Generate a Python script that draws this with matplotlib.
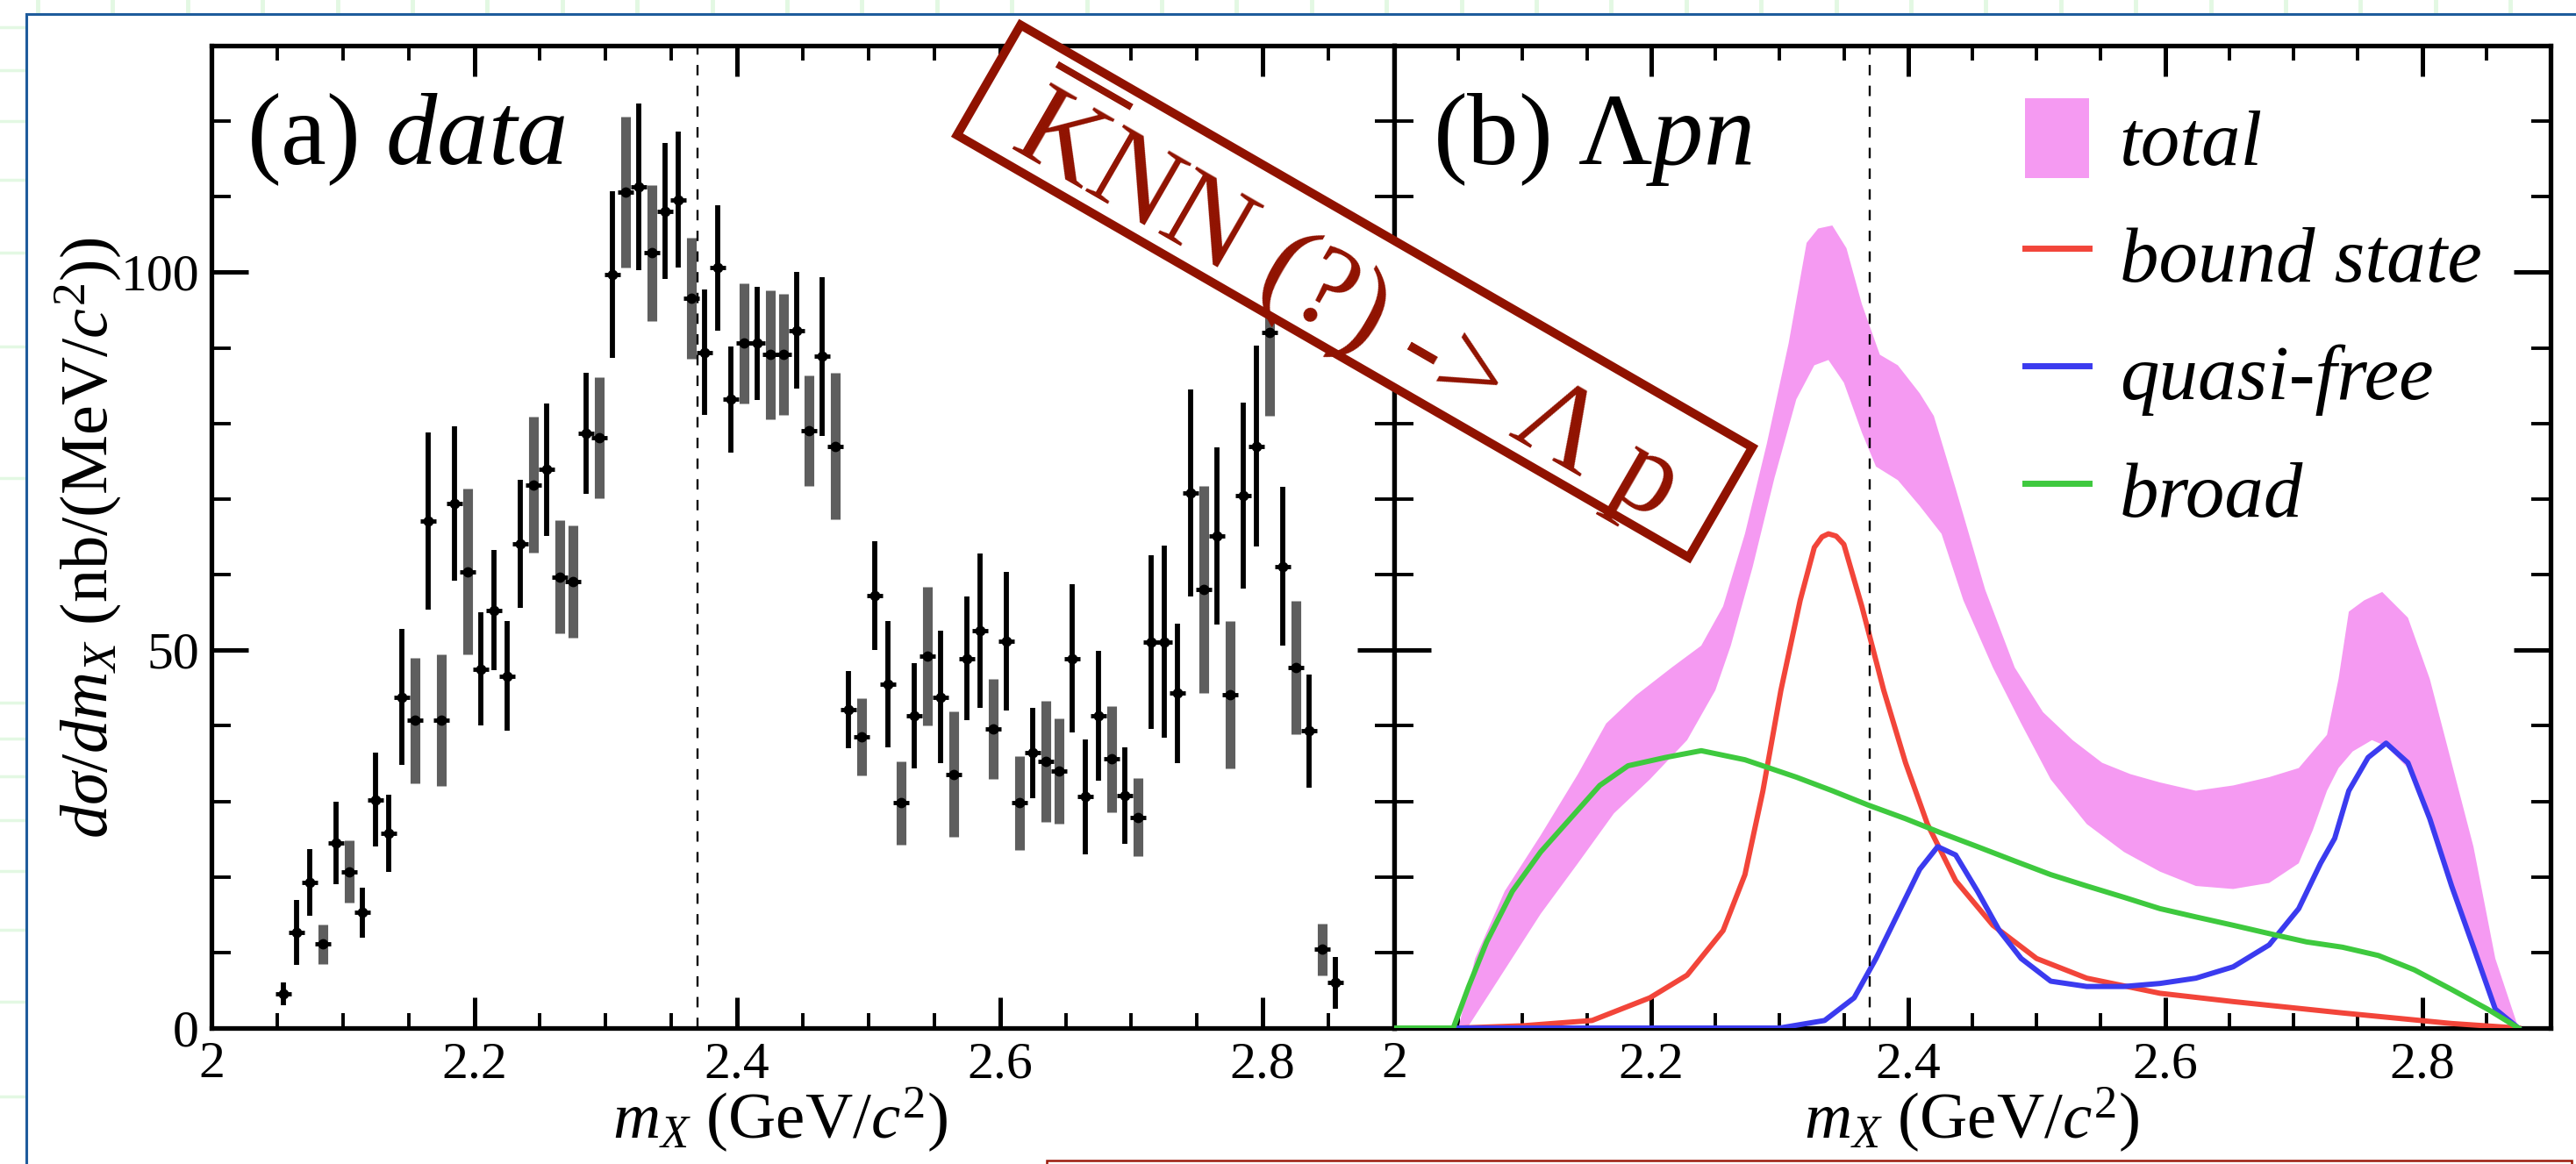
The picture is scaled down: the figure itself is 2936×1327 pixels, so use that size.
import numpy as np
import matplotlib
matplotlib.use('Agg')
import matplotlib.pyplot as plt
from matplotlib.patches import Rectangle, Patch
from matplotlib.lines import Line2D
from matplotlib.transforms import Affine2D, IdentityTransform
from matplotlib.ticker import MultipleLocator, FuncFormatter

plt.rcParams['font.family'] = ['Liberation Serif', 'DejaVu Serif']
plt.rcParams['mathtext.fontset'] = 'custom'
plt.rcParams['mathtext.rm'] = 'Liberation Serif'
plt.rcParams['mathtext.it'] = 'Liberation Serif:italic'
plt.rcParams['mathtext.bf'] = 'Liberation Serif:bold'

# ---------------- data: panel (a) ----------------
mx = [2.055, 2.065, 2.075, 2.085, 2.095, 2.105, 2.115, 2.125, 2.135, 2.145,
      2.155, 2.165, 2.175, 2.185, 2.195, 2.205, 2.215, 2.225, 2.235, 2.245,
      2.255, 2.265, 2.275, 2.285, 2.295, 2.305, 2.315, 2.325, 2.335, 2.345,
      2.355, 2.365, 2.375, 2.385, 2.395, 2.405, 2.415, 2.425, 2.435, 2.445,
      2.455, 2.465, 2.475, 2.485, 2.495, 2.505, 2.515, 2.525, 2.535, 2.545,
      2.555, 2.565, 2.575, 2.585, 2.595, 2.605, 2.615, 2.625, 2.635, 2.645,
      2.655, 2.665, 2.675, 2.685, 2.695, 2.705, 2.715, 2.725, 2.735, 2.745,
      2.755, 2.765, 2.775, 2.785, 2.795, 2.805, 2.815, 2.825, 2.835, 2.845,
      2.855]
xsec = [4.5, 12.6, 19.3, 11.1, 24.5, 20.7, 15.3, 30.2, 25.8, 43.8,
        40.7, 67.1, 40.7, 69.4, 60.4, 47.5, 55.3, 46.6, 64.1, 71.9,
        73.9, 59.7, 59.1, 78.7, 78.1, 99.7, 110.6, 111.3, 102.6, 108.1,
        109.6, 96.6, 89.4, 100.6, 83.2, 90.6, 90.6, 89.1, 89.1, 92.3,
        79.0, 88.9, 77.0, 42.1, 38.5, 57.2, 45.5, 29.8, 41.3, 49.2,
        43.8, 33.6, 48.9, 52.6, 39.6, 51.2, 29.8, 36.4, 35.3, 34.0,
        48.9, 30.6, 41.3, 35.6, 30.8, 27.9, 51.1, 51.1, 44.3, 70.8,
        58.0, 65.1, 44.1, 70.5, 77.0, 92.0, 61.1, 47.7, 39.3, 10.4,
        6.0]
xsec_err = [1.5, 4.3, 4.4, 2.6, 5.5, 4.1, 3.3, 6.2, 5.1, 9.0,
            8.3, 11.7, 8.7, 10.2, 11.0, 7.5, 8.0, 7.2, 8.5, 9.0,
            8.8, 7.5, 7.4, 8.0, 8.0, 11.0, 10.0, 11.0, 9.0, 9.0,
            9.0, 8.0, 8.3, 8.3, 7.0, 8.0, 7.5, 8.5, 8.0, 7.7,
            7.3, 10.5, 9.7, 5.1, 5.1, 7.2, 8.3, 5.5, 7.0, 9.2,
            8.8, 8.3, 8.2, 10.2, 6.6, 9.2, 6.2, 6.0, 8.0, 7.0,
            9.8, 7.6, 8.6, 7.0, 6.4, 5.2, 11.5, 12.7, 9.2, 13.7,
            13.7, 11.7, 9.7, 12.3, 13.3, 11.0, 10.5, 8.8, 7.5, 3.4,
            3.4]
# 1 = error shown as grey systematic band, 0 = black statistical bar
sys_band = [0, 0, 0, 1, 0, 1, 0, 0, 0, 0,
            1, 0, 1, 0, 1, 0, 0, 0, 0, 1,
            0, 1, 1, 0, 1, 0, 1, 0, 1, 0,
            0, 1, 0, 0, 0, 1, 0, 1, 1, 0,
            1, 0, 1, 0, 1, 0, 0, 1, 0, 1,
            0, 1, 0, 0, 1, 0, 1, 0, 1, 1,
            0, 0, 0, 1, 0, 1, 0, 0, 0, 0,
            1, 0, 1, 0, 0, 1, 0, 1, 0, 1,
            0]

# ---------------- data: panel (b) ----------------
total_up_x = [2.050, 2.063, 2.086, 2.114, 2.143, 2.165, 2.188, 2.216, 2.239, 2.256,
              2.273, 2.290, 2.307, 2.321, 2.330, 2.341, 2.352, 2.364, 2.378, 2.392,
              2.409, 2.420, 2.437, 2.460, 2.483, 2.505, 2.528, 2.551, 2.573, 2.596,
              2.624, 2.653, 2.681, 2.704, 2.726, 2.735, 2.743, 2.755, 2.769, 2.789,
              2.806, 2.823, 2.840, 2.857, 2.875]
total_up_y = [0.0, 9.2, 18.1, 25.5, 33.6, 40.3, 44.0, 47.7, 50.6, 55.8,
              65.4, 77.3, 90.6, 103.9, 105.8, 106.2, 103.2, 95.8, 89.1, 87.7,
              84.0, 81.0, 71.4, 58.0, 47.7, 41.8, 38.1, 35.1, 33.6, 32.5,
              31.4, 32.1, 33.2, 34.4, 38.8, 46.2, 55.1, 56.6, 57.7, 54.3,
              46.2, 35.1, 24.0, 9.2, 0.0]
total_lo_x = [2.050, 2.058, 2.086, 2.114, 2.143, 2.171, 2.199, 2.228, 2.250, 2.262,
              2.279, 2.296, 2.313, 2.327, 2.338, 2.350, 2.364, 2.375, 2.392, 2.409,
              2.426, 2.443, 2.466, 2.488, 2.511, 2.539, 2.568, 2.596, 2.624, 2.653,
              2.681, 2.704, 2.715, 2.726, 2.735, 2.746, 2.761, 2.772, 2.789, 2.806,
              2.823, 2.840, 2.857, 2.875]
total_lo_y = [0.0, 0.3, 7.7, 15.1, 21.8, 28.4, 32.9, 38.1, 44.7, 50.6,
              61.0, 72.8, 83.2, 87.7, 88.4, 85.4, 78.8, 74.3, 72.5, 69.1,
              65.4, 56.6, 47.7, 40.3, 32.9, 27.0, 23.3, 20.7, 18.8, 18.4,
              19.2, 21.8, 26.2, 31.4, 34.4, 36.6, 38.1, 37.3, 34.4, 27.7,
              18.8, 10.7, 1.8, 0.0]

bound_x = [2.050, 2.100, 2.154, 2.199, 2.228, 2.256, 2.273, 2.287, 2.301, 2.316,
           2.327, 2.333, 2.338, 2.344, 2.350, 2.364, 2.381, 2.398, 2.415, 2.437,
           2.466, 2.500, 2.539, 2.596, 2.653, 2.738, 2.823, 2.875]
bound_y = [0.0, 0.3, 1.0, 4.0, 7.0, 12.9, 20.3, 31.4, 44.7, 56.6,
           63.6, 65.0, 65.4, 65.1, 64.0, 55.8, 44.7, 35.1, 27.0, 19.5,
           13.6, 9.2, 6.6, 4.6, 3.5, 2.0, 0.6, 0.0]

qf_x = [2.050, 2.300, 2.335, 2.358, 2.375, 2.392, 2.409, 2.423, 2.437, 2.454,
        2.471, 2.488, 2.511, 2.539, 2.568, 2.596, 2.624, 2.653, 2.681, 2.704,
        2.721, 2.732, 2.743, 2.758, 2.772, 2.789, 2.806, 2.823, 2.840, 2.857,
        2.875]
qf_y = [0.0, 0.0, 1.0, 4.0, 9.2, 15.1, 21.0, 24.0, 22.9, 18.1,
        12.9, 9.2, 6.2, 5.5, 5.5, 5.9, 6.6, 8.1, 11.0, 15.8,
        21.8, 25.1, 31.4, 35.8, 37.7, 35.1, 27.7, 18.8, 10.7, 2.5,
        0.0]

broad_x = [2.000, 2.046, 2.058, 2.072, 2.092, 2.114, 2.137, 2.160, 2.182, 2.211,
           2.239, 2.273, 2.313, 2.341, 2.369, 2.398, 2.426, 2.454, 2.483, 2.511,
           2.539, 2.568, 2.596, 2.624, 2.653, 2.681, 2.710, 2.738, 2.766, 2.794,
           2.823, 2.851, 2.875]
broad_y = [0.0, 0.0, 5.5, 11.4, 18.1, 23.3, 27.7, 32.1, 34.7, 35.8,
           36.7, 35.5, 33.2, 31.4, 29.5, 27.7, 25.8, 24.0, 22.1, 20.3,
           18.8, 17.3, 15.8, 14.7, 13.6, 12.5, 11.4, 10.7, 9.6, 7.7,
           5.1, 2.5, 0.0]

threshold = 2.37
legend_labels = ['total', 'bound state', 'quasi-free', 'broad']
x_ticks = [2.0, 2.2, 2.4, 2.6, 2.8]
y_ticks = [0, 50, 100]

# ---------------- style ----------------
W, H = 2936, 1327
C_PINK = '#f59af2'
C_RED = '#f2453a'
C_BLUE = '#3b3bef'
C_GREEN = '#3ec93e'
C_DARKRED = '#901200'
C_FRAME = '#1f5c9c'
C_GRID = '#e3f8e3'

fig = plt.figure(figsize=(W / 100, H / 100), dpi=100)
fig.patch.set_facecolor('white')


def px_axes(x0, y0, x1, y1):
    return [x0 / W, 1 - y1 / H, (x1 - x0) / W, (y1 - y0) / H]


# background decoration (slide grid marks + blue frame)
for k in range(35):
    xg = 43 + 85.4 * k
    fig.add_artist(Line2D([xg, xg], [H - 13, H], transform=IdentityTransform(),
                          color=C_GRID, lw=3.5, zorder=0))
for yg in [31, 80, 138, 205, 288, 395, 545, 801, 842, 885, 935, 993, 1060, 1142, 1250]:
    fig.add_artist(Line2D([0, 27], [H - yg, H - yg], transform=IdentityTransform(),
                          color=C_GRID, lw=2.5, zorder=0))
fig.add_artist(Rectangle((30, -60), 3100, H - 16 + 60, transform=IdentityTransform(),
                         fill=False, ec=C_FRAME, lw=2.2, zorder=0.5))

axL = fig.add_axes(px_axes(241, 52, 1589, 1172))
axR = fig.add_axes(px_axes(1589, 52, 2907, 1172))

for ax in (axL, axR):
    ax.set_xlim(2.0, 2.9)
    ax.set_ylim(0, 130)
    ax.xaxis.set_major_locator(plt.FixedLocator(x_ticks))
    ax.xaxis.set_minor_locator(MultipleLocator(0.05))
    ax.yaxis.set_major_locator(plt.FixedLocator(y_ticks))
    ax.yaxis.set_minor_locator(MultipleLocator(10))
    ax.xaxis.set_major_formatter(FuncFormatter(lambda v, p: f'{v:g}'))
    ax.yaxis.set_major_formatter(FuncFormatter(lambda v, p: f'{v:g}'))
    ax.tick_params(axis='both', which='both', direction='in', top=True, right=True,
                   labelsize=43, color='black')
    ax.tick_params(axis='x', which='major', length=25, width=3.6, pad=11)
    ax.tick_params(axis='x', which='minor', length=12, width=2.8)
    ax.tick_params(axis='y', which='major', length=30, width=3.6, pad=10)
    ax.tick_params(axis='y', which='minor', length=16, width=2.8)
    for s in ax.spines.values():
        s.set_linewidth(3.8)
    ax.axvline(threshold, color='black', lw=1.7, ls=(0, (5, 5)), zorder=6)
axR.tick_params(axis='y', which='both', labelleft=False)

# ---- panel (a): data ----
mx_a = np.array(mx)
y_a = np.array(xsec)
e_a = np.array(xsec_err)
band = np.array(sys_band) == 1
axL.vlines(mx_a[band], (y_a - e_a)[band], (y_a + e_a)[band], color='#5e5e5e', lw=8, zorder=3)
axL.vlines(mx_a[~band], (y_a - e_a)[~band], (y_a + e_a)[~band], color='black', lw=4.2, zorder=4)
axL.plot(mx_a, y_a, 'o', color='black', ms=7.5, zorder=5)
axL.plot(mx_a, y_a, '_', color='black', ms=13, mew=3.5, zorder=5)

# ---- panel (b): model ----
poly_x = np.concatenate([total_up_x, total_lo_x[::-1]])
poly_y = np.concatenate([total_up_y, total_lo_y[::-1]])
axR.fill(poly_x, poly_y, color=C_PINK, lw=0, zorder=2)
axR.plot(bound_x, bound_y, color=C_RED, lw=4.3, zorder=3, solid_joinstyle='round')
axR.plot(qf_x, qf_y, color=C_BLUE, lw=4.3, zorder=4, solid_joinstyle='round')
axR.plot(broad_x, broad_y, color=C_GREEN, lw=4.3, zorder=5, solid_joinstyle='round')

handles = [Patch(facecolor=C_PINK, edgecolor='none'),
           Line2D([], [], color=C_RED, lw=5),
           Line2D([], [], color=C_BLUE, lw=5),
           Line2D([], [], color=C_GREEN, lw=5)]
axR.legend(handles, legend_labels, loc='upper left',
           bbox_to_anchor=(2308 / W, 1 - 112 / H), bbox_transform=fig.transFigure,
           frameon=False, prop={'family': 'Liberation Serif', 'style': 'italic', 'size': 64},
           handlelength=0.82, handleheight=1.2, labelspacing=0.44, handletextpad=0.39,
           borderpad=0, borderaxespad=0)

# ---- texts ----
fig.text(281 / W, 1 - 187 / H, r'(a) $data$', fontsize=84, ha='left', va='baseline')
fig.text(1633 / W, 1 - 187 / H, r'(b) $\Lambda pn$', fontsize=84, ha='left', va='baseline')
xlab = r'$m_{X}$ (GeV/$c^{2}$)'
fig.text(889 / W, 29 / H, xlab, fontsize=54, ha='center', va='baseline')
fig.text(2247 / W, 29 / H, xlab, fontsize=54, ha='center', va='baseline')
fig.text(100 / W, 1 - 613 / H, r'$d\sigma/dm_{X}$ (nb/(MeV/$c^{2}$))', fontsize=55,
         rotation=90, ha='center', va='center')

# ---- rotated annotation box ----
cx, cy = 1544, H - 332
bw, bh, blw = 963, 145, 10
rot = Affine2D().rotate_deg_around(cx, cy, -30) + IdentityTransform()
fig.add_artist(Rectangle((cx - bw / 2, cy - bh / 2), bw, bh, transform=rot,
                         fc='white', ec=C_DARKRED, lw=blw * 0.72, zorder=20))
fig.text((cx - 4) / W, (cy - 7) / H, r'$\overline{\mathrm{K}}$NN (?) -> Λ p', fontsize=96,
         color=C_DARKRED, rotation=-30, rotation_mode='anchor', ha='center', va='center',
         zorder=21)

# ---- bottom box edge ----
fig.add_artist(Rectangle((1193, -40), 2931 - 1193, 44, transform=IdentityTransform(),
                         fill=False, ec='#9a1a0c', lw=1.8, zorder=20))

fig.savefig('out.png', dpi=100, facecolor='white')
